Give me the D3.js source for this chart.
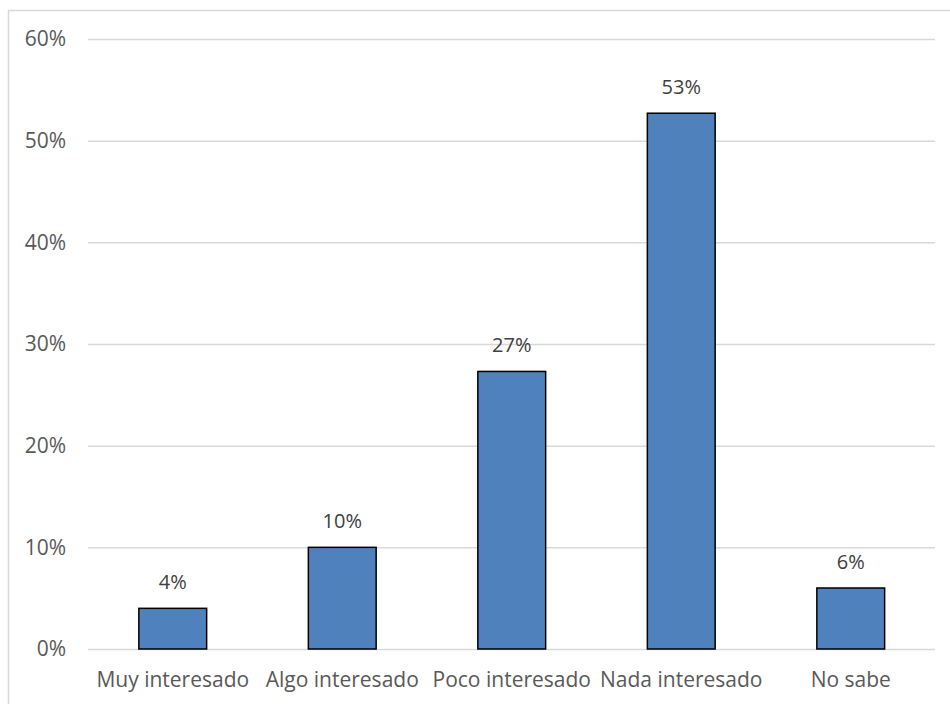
<!DOCTYPE html>
<html><head><meta charset="utf-8">
<script src="https://cdn.jsdelivr.net/npm/d3@7"></script>
<style>body{margin:0;background:#fff}svg{display:block}</style>
</head><body>
<script>
const categories = ["Muy interesado","Algo interesado","Poco interesado","Nada interesado","No sabe"];
const values = [0.04, 0.10, 0.273, 0.527, 0.06];
const valueLabels = ["4%","10%","27%","53%","6%"];
const yTicks = [0,0.1,0.2,0.3,0.4,0.5,0.6];

const W=950,H=704;
const svg=d3.select("body").append("svg").attr("width",W).attr("height",H);
svg.append("rect").attr("x",8.5).attr("y",10.5).attr("width",960).attr("height",720)
  .attr("fill","#fff").attr("stroke","#d9d9d9").attr("stroke-width",1.5);

const font="'Open Sans', 'Noto Sans', sans-serif";
const fs="21px";
const x=d3.scaleBand().domain(categories).range([88,935.5]).paddingInner(0.6).paddingOuter(0.3);
const y=d3.scaleLinear().domain([0,0.6]).range([649,39]);

const g=svg.append("g");
const ya=d3.axisLeft(y).tickValues(yTicks).tickFormat(d3.format(".0%")).tickSize(-(935-88)).tickPadding(22);
const yg=g.append("g").attr("transform","translate(88,0)").call(ya);
yg.select(".domain").remove();
yg.selectAll(".tick line").attr("stroke","#d9d9d9").attr("stroke-width",1.5);
yg.selectAll(".tick text").attr("fill","#595959").style("font-family",font).style("font-size",fs);

g.selectAll("rect.bar").data(categories).join("rect").attr("class","bar")
  .attr("x",d=>x(d)).attr("width",x.bandwidth())
  .attr("y",(d,i)=>y(values[i])).attr("height",(d,i)=>y(0)-y(values[i]))
  .attr("fill","#4f81bd").attr("stroke","#000").attr("stroke-width",1.5);

g.selectAll("text.vl").data(categories).join("text").attr("class","vl")
  .attr("x",d=>x(d)+x.bandwidth()/2).attr("y",(d,i)=>y(values[i])-19)
  .attr("text-anchor","middle").attr("fill","#404040")
  .style("font-family",font).style("font-size","20px").text((d,i)=>valueLabels[i]);

const xa=d3.axisBottom(x).tickSize(0).tickPadding(23);
const xg=g.append("g").attr("transform","translate(0,649)").call(xa);
xg.select(".domain").remove();
xg.selectAll(".tick text").attr("fill","#595959").style("font-family",font).style("font-size",fs);
</script>
</body></html>
